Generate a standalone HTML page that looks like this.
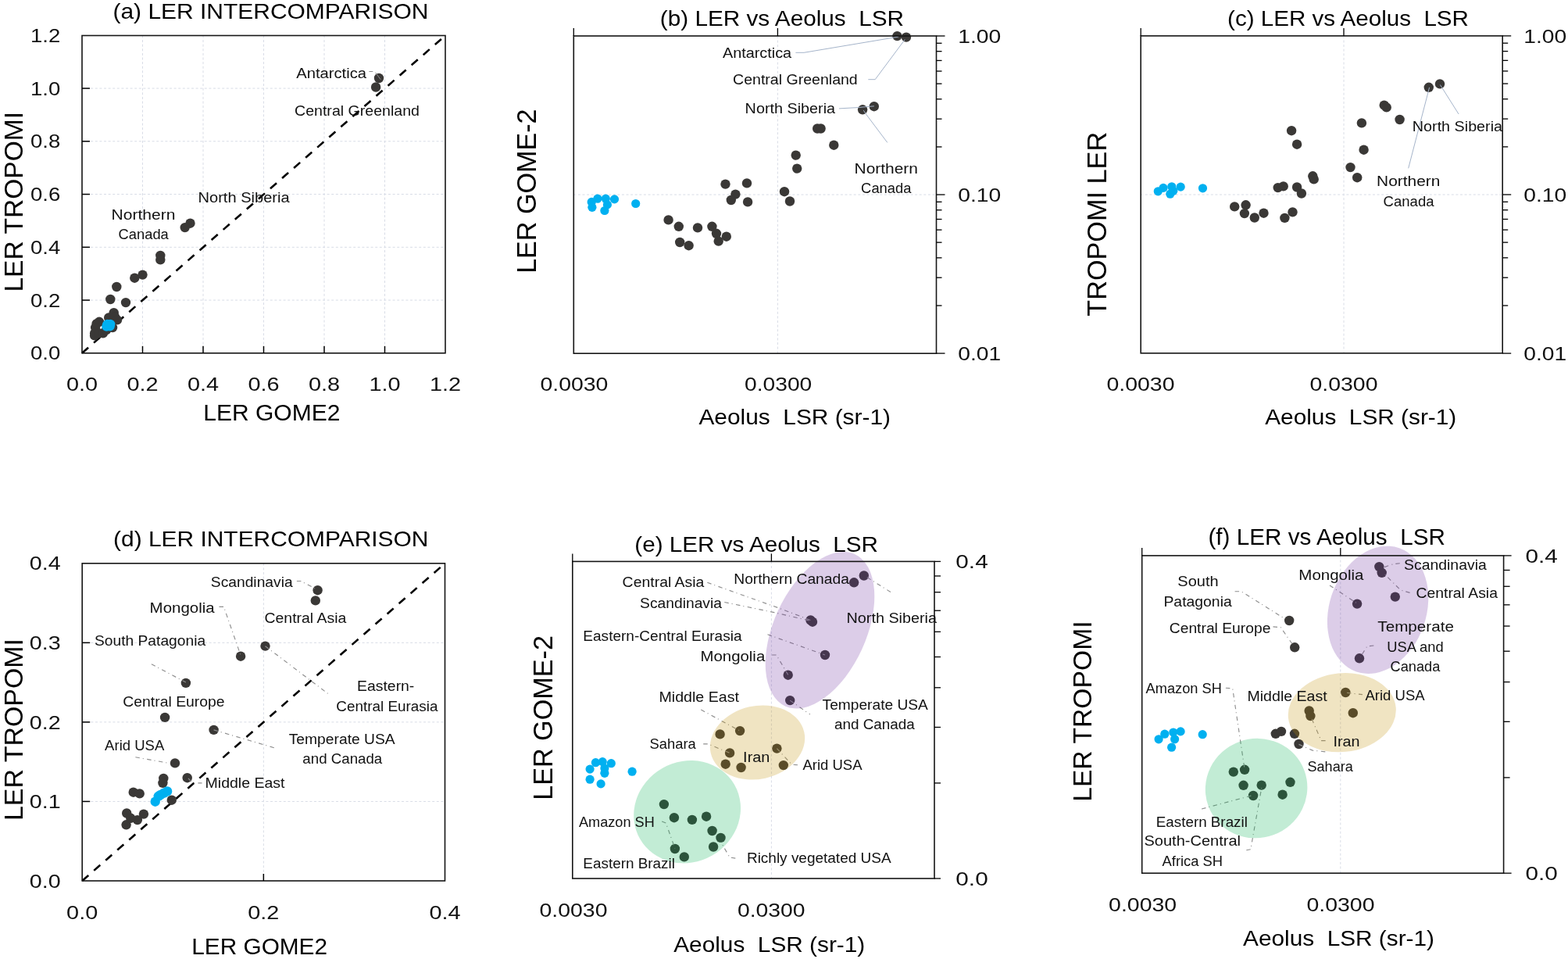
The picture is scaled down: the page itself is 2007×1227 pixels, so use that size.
<!DOCTYPE html>
<html><head><meta charset="utf-8"><title>LER vs Aeolus LSR</title>
<style>
html,body{margin:0;padding:0;background:#fff;}
body{width:2007px;height:1227px;overflow:hidden;}
svg{display:block;font-family:"Liberation Sans", Arial, sans-serif;}
text{white-space:pre;}
</style></head>
<body>
<svg xml:space="preserve" width="2007" height="1227" viewBox="0 0 2007 1227">
<rect width="2007" height="1227" fill="#fff"/>
<line x1="182.5" y1="45.5" x2="182.5" y2="451.8" stroke="#d8dce6" stroke-width="1" stroke-dasharray="3 2.6" stroke-linecap="butt"/>
<line x1="105" y1="384.05" x2="570" y2="384.05" stroke="#d8dce6" stroke-width="1" stroke-dasharray="3 2.6" stroke-linecap="butt"/>
<line x1="260" y1="45.5" x2="260" y2="451.8" stroke="#d8dce6" stroke-width="1" stroke-dasharray="3 2.6" stroke-linecap="butt"/>
<line x1="105" y1="316.3" x2="570" y2="316.3" stroke="#d8dce6" stroke-width="1" stroke-dasharray="3 2.6" stroke-linecap="butt"/>
<line x1="337.5" y1="45.5" x2="337.5" y2="451.8" stroke="#d8dce6" stroke-width="1" stroke-dasharray="3 2.6" stroke-linecap="butt"/>
<line x1="105" y1="248.55" x2="570" y2="248.55" stroke="#d8dce6" stroke-width="1" stroke-dasharray="3 2.6" stroke-linecap="butt"/>
<line x1="415" y1="45.5" x2="415" y2="451.8" stroke="#d8dce6" stroke-width="1" stroke-dasharray="3 2.6" stroke-linecap="butt"/>
<line x1="105" y1="180.8" x2="570" y2="180.8" stroke="#d8dce6" stroke-width="1" stroke-dasharray="3 2.6" stroke-linecap="butt"/>
<line x1="492.5" y1="45.5" x2="492.5" y2="451.8" stroke="#d8dce6" stroke-width="1" stroke-dasharray="3 2.6" stroke-linecap="butt"/>
<line x1="105" y1="113.05" x2="570" y2="113.05" stroke="#d8dce6" stroke-width="1" stroke-dasharray="3 2.6" stroke-linecap="butt"/>
<line x1="105" y1="451.8" x2="570" y2="45.5" stroke="#000" stroke-width="2.6" stroke-dasharray="10.7 9.3" stroke-linecap="butt"/>
<circle cx="243.5" cy="285.7" r="6.2" fill="#3a3836"/>
<circle cx="236.7" cy="291.1" r="6.2" fill="#3a3836"/>
<circle cx="205.3" cy="327" r="6.2" fill="#3a3836"/>
<circle cx="205.3" cy="332.4" r="6.2" fill="#3a3836"/>
<circle cx="182.5" cy="351.6" r="6.2" fill="#3a3836"/>
<circle cx="172.3" cy="355.7" r="6.2" fill="#3a3836"/>
<circle cx="149.3" cy="367" r="6.2" fill="#3a3836"/>
<circle cx="141.3" cy="383" r="6.2" fill="#3a3836"/>
<circle cx="161" cy="387.1" r="6.2" fill="#3a3836"/>
<circle cx="145.7" cy="400.2" r="6.2" fill="#3a3836"/>
<circle cx="139.2" cy="406.4" r="6.2" fill="#3a3836"/>
<circle cx="147" cy="405.4" r="6.2" fill="#3a3836"/>
<circle cx="150" cy="409.3" r="6.2" fill="#3a3836"/>
<circle cx="127" cy="411.8" r="6.2" fill="#3a3836"/>
<circle cx="123.6" cy="414.2" r="6.2" fill="#3a3836"/>
<circle cx="122.1" cy="419.1" r="6.2" fill="#3a3836"/>
<circle cx="121.1" cy="426.4" r="6.2" fill="#3a3836"/>
<circle cx="121.1" cy="429.4" r="6.2" fill="#3a3836"/>
<circle cx="127" cy="426.4" r="6.2" fill="#3a3836"/>
<circle cx="131.9" cy="426.4" r="6.2" fill="#3a3836"/>
<circle cx="144.1" cy="419.1" r="6.2" fill="#3a3836"/>
<circle cx="136.3" cy="422" r="6.2" fill="#3a3836"/>
<circle cx="485" cy="100" r="6.2" fill="#3a3836"/>
<circle cx="481.1" cy="111.5" r="6.2" fill="#3a3836"/>
<circle cx="136.4" cy="417.6" r="6.2" fill="#00b0f0"/>
<circle cx="141.2" cy="415" r="6.2" fill="#00b0f0"/>
<circle cx="138.6" cy="415.6" r="6.2" fill="#00b0f0"/>
<circle cx="140.6" cy="417.4" r="6.2" fill="#00b0f0"/>
<circle cx="137.6" cy="414.9" r="6.2" fill="#00b0f0"/>
<polyline points="472.4,91.5 477.3,91.5" fill="none" stroke="#8f8f8f" stroke-width="1"/>
<polyline points="480.6,92.9 487.2,101.7" fill="none" stroke="#8f8f8f" stroke-width="1"/>
<rect x="105" y="45.5" width="465" height="406.3" fill="none" stroke="#151515" stroke-width="1.6"/>
<line x1="105" y1="384.05" x2="115" y2="384.05" stroke="#000" stroke-width="1.5" stroke-linecap="butt"/>
<line x1="182.5" y1="451.8" x2="182.5" y2="442.8" stroke="#000" stroke-width="1.5" stroke-linecap="butt"/>
<line x1="105" y1="316.3" x2="115" y2="316.3" stroke="#000" stroke-width="1.5" stroke-linecap="butt"/>
<line x1="260" y1="451.8" x2="260" y2="442.8" stroke="#000" stroke-width="1.5" stroke-linecap="butt"/>
<line x1="105" y1="248.55" x2="115" y2="248.55" stroke="#000" stroke-width="1.5" stroke-linecap="butt"/>
<line x1="337.5" y1="451.8" x2="337.5" y2="442.8" stroke="#000" stroke-width="1.5" stroke-linecap="butt"/>
<line x1="105" y1="180.8" x2="115" y2="180.8" stroke="#000" stroke-width="1.5" stroke-linecap="butt"/>
<line x1="415" y1="451.8" x2="415" y2="442.8" stroke="#000" stroke-width="1.5" stroke-linecap="butt"/>
<line x1="105" y1="113.05" x2="115" y2="113.05" stroke="#000" stroke-width="1.5" stroke-linecap="butt"/>
<line x1="492.5" y1="451.8" x2="492.5" y2="442.8" stroke="#000" stroke-width="1.5" stroke-linecap="butt"/>
<text x="39.03" y="460.4" font-size="24.5" textLength="38.24" lengthAdjust="spacingAndGlyphs" fill="#111">0.0</text>
<text x="84.93" y="500.3" font-size="24.5" textLength="40.14" lengthAdjust="spacingAndGlyphs" fill="#111">0.0</text>
<text x="39.03" y="392.65" font-size="24.5" textLength="38.24" lengthAdjust="spacingAndGlyphs" fill="#111">0.2</text>
<text x="162.43" y="500.3" font-size="24.5" textLength="40.14" lengthAdjust="spacingAndGlyphs" fill="#111">0.2</text>
<text x="39.03" y="324.9" font-size="24.5" textLength="38.24" lengthAdjust="spacingAndGlyphs" fill="#111">0.4</text>
<text x="239.93" y="500.3" font-size="24.5" textLength="40.14" lengthAdjust="spacingAndGlyphs" fill="#111">0.4</text>
<text x="39.03" y="257.15" font-size="24.5" textLength="38.24" lengthAdjust="spacingAndGlyphs" fill="#111">0.6</text>
<text x="317.43" y="500.3" font-size="24.5" textLength="40.14" lengthAdjust="spacingAndGlyphs" fill="#111">0.6</text>
<text x="39.03" y="189.4" font-size="24.5" textLength="38.24" lengthAdjust="spacingAndGlyphs" fill="#111">0.8</text>
<text x="394.93" y="500.3" font-size="24.5" textLength="40.14" lengthAdjust="spacingAndGlyphs" fill="#111">0.8</text>
<text x="39.03" y="121.65" font-size="24.5" textLength="38.24" lengthAdjust="spacingAndGlyphs" fill="#111">1.0</text>
<text x="472.43" y="500.3" font-size="24.5" textLength="40.14" lengthAdjust="spacingAndGlyphs" fill="#111">1.0</text>
<text x="39.03" y="53.9" font-size="24.5" textLength="38.24" lengthAdjust="spacingAndGlyphs" fill="#111">1.2</text>
<text x="549.93" y="500.3" font-size="24.5" textLength="40.14" lengthAdjust="spacingAndGlyphs" fill="#111">1.2</text>
<text x="379.24" y="99.5" font-size="17.6" textLength="89.81" lengthAdjust="spacingAndGlyphs" fill="#111">Antarctica</text>
<text x="377.04" y="147.7" font-size="17.6" textLength="159.91" lengthAdjust="spacingAndGlyphs" fill="#111">Central Greenland</text>
<text x="253.54" y="259.2" font-size="17.6" textLength="117.11" lengthAdjust="spacingAndGlyphs" fill="#111">North Siberia</text>
<text x="142.54" y="280.9" font-size="17.6" textLength="81.91" lengthAdjust="spacingAndGlyphs" fill="#111">Northern</text>
<text x="151.54" y="306" font-size="17.6" textLength="64.31" lengthAdjust="spacingAndGlyphs" fill="#111">Canada</text>
<text x="144.45" y="23.6" font-size="27.5" textLength="404" lengthAdjust="spacingAndGlyphs" fill="#000">(a) LER INTERCOMPARISON</text>
<text x="260.32" y="537.9" font-size="29.7" textLength="175.06" lengthAdjust="spacingAndGlyphs" fill="#000">LER GOME2</text>
<text transform="translate(28.9 258.25) rotate(-90)" x="0" y="0" font-size="33.5" text-anchor="middle" textLength="230.72" lengthAdjust="spacingAndGlyphs" fill="#000">LER TROPOMI</text>
<line x1="734.3" y1="249.05" x2="1198.5" y2="249.05" stroke="#d8dce6" stroke-width="1" stroke-dasharray="3 2.6" stroke-linecap="butt"/>
<line x1="995.4" y1="46" x2="995.4" y2="452.2" stroke="#d8dce6" stroke-width="1" stroke-dasharray="3 2.6" stroke-linecap="butt"/>
<circle cx="928.5" cy="235.6" r="6.2" fill="#3a3836"/>
<circle cx="956" cy="234.4" r="6.2" fill="#3a3836"/>
<circle cx="941.4" cy="248.6" r="6.2" fill="#3a3836"/>
<circle cx="935.8" cy="256" r="6.2" fill="#3a3836"/>
<circle cx="957.1" cy="258.4" r="6.2" fill="#3a3836"/>
<circle cx="1004" cy="245.2" r="6.2" fill="#3a3836"/>
<circle cx="1011" cy="257.5" r="6.2" fill="#3a3836"/>
<circle cx="855.6" cy="281.4" r="6.2" fill="#3a3836"/>
<circle cx="868.8" cy="289.8" r="6.2" fill="#3a3836"/>
<circle cx="893" cy="291.4" r="6.2" fill="#3a3836"/>
<circle cx="911.4" cy="289.8" r="6.2" fill="#3a3836"/>
<circle cx="917" cy="298.8" r="6.2" fill="#3a3836"/>
<circle cx="929.8" cy="302.7" r="6.2" fill="#3a3836"/>
<circle cx="919.7" cy="308.6" r="6.2" fill="#3a3836"/>
<circle cx="870.2" cy="310" r="6.2" fill="#3a3836"/>
<circle cx="881.6" cy="314.2" r="6.2" fill="#3a3836"/>
<circle cx="1018.7" cy="198.6" r="6.2" fill="#3a3836"/>
<circle cx="1020.2" cy="215.6" r="6.2" fill="#3a3836"/>
<circle cx="1046.2" cy="164.5" r="6.2" fill="#3a3836"/>
<circle cx="1050.6" cy="164.5" r="6.2" fill="#3a3836"/>
<circle cx="1067.3" cy="185.7" r="6.2" fill="#3a3836"/>
<circle cx="1104.1" cy="140.3" r="6.2" fill="#3a3836"/>
<circle cx="1118.8" cy="136.2" r="6.2" fill="#3a3836"/>
<circle cx="1148.4" cy="46.1" r="6.2" fill="#3a3836"/>
<circle cx="1160" cy="47.6" r="6.2" fill="#3a3836"/>
<circle cx="757.2" cy="258.4" r="5.6" fill="#00b0f0"/>
<circle cx="757.9" cy="265.3" r="5.6" fill="#00b0f0"/>
<circle cx="764.9" cy="254.2" r="5.6" fill="#00b0f0"/>
<circle cx="775.3" cy="254.2" r="5.6" fill="#00b0f0"/>
<circle cx="777.4" cy="261.9" r="5.6" fill="#00b0f0"/>
<circle cx="773.9" cy="269.5" r="5.6" fill="#00b0f0"/>
<circle cx="786.5" cy="254.9" r="5.6" fill="#00b0f0"/>
<circle cx="813.7" cy="260.5" r="5.6" fill="#00b0f0"/>
<polyline points="1018.4,67.3 1029.1,67.3 1150.2,47" fill="none" stroke="#a5b4ca" stroke-width="1"/>
<polyline points="1111.3,101.7 1120.2,101.7 1158.2,50.6" fill="none" stroke="#a5b4ca" stroke-width="1"/>
<polyline points="1074,138.9 1097.3,137.6 1118.8,135.8" fill="none" stroke="#a5b4ca" stroke-width="1"/>
<polyline points="1105.3,141.2 1108.9,146.6 1135.8,182.4" fill="none" stroke="#a5b4ca" stroke-width="1"/>
<rect x="734.3" y="46" width="464.2" height="406.2" fill="none" stroke="#151515" stroke-width="1.6"/>
<line x1="734.3" y1="46" x2="734.3" y2="36" stroke="#000" stroke-width="1.3" stroke-linecap="butt"/>
<line x1="995.4" y1="46" x2="995.4" y2="36" stroke="#000" stroke-width="1.3" stroke-linecap="butt"/>
<line x1="1198.5" y1="187.93" x2="1205.5" y2="187.93" stroke="#000" stroke-width="1.3" stroke-linecap="butt"/>
<line x1="1198.5" y1="152.17" x2="1205.5" y2="152.17" stroke="#000" stroke-width="1.3" stroke-linecap="butt"/>
<line x1="1198.5" y1="126.8" x2="1205.5" y2="126.8" stroke="#000" stroke-width="1.3" stroke-linecap="butt"/>
<line x1="1198.5" y1="107.12" x2="1205.5" y2="107.12" stroke="#000" stroke-width="1.3" stroke-linecap="butt"/>
<line x1="1198.5" y1="91.05" x2="1205.5" y2="91.05" stroke="#000" stroke-width="1.3" stroke-linecap="butt"/>
<line x1="1198.5" y1="77.45" x2="1205.5" y2="77.45" stroke="#000" stroke-width="1.3" stroke-linecap="butt"/>
<line x1="1198.5" y1="65.68" x2="1205.5" y2="65.68" stroke="#000" stroke-width="1.3" stroke-linecap="butt"/>
<line x1="1198.5" y1="55.29" x2="1205.5" y2="55.29" stroke="#000" stroke-width="1.3" stroke-linecap="butt"/>
<line x1="1198.5" y1="390.98" x2="1205.5" y2="390.98" stroke="#000" stroke-width="1.3" stroke-linecap="butt"/>
<line x1="1198.5" y1="355.22" x2="1205.5" y2="355.22" stroke="#000" stroke-width="1.3" stroke-linecap="butt"/>
<line x1="1198.5" y1="329.85" x2="1205.5" y2="329.85" stroke="#000" stroke-width="1.3" stroke-linecap="butt"/>
<line x1="1198.5" y1="310.17" x2="1205.5" y2="310.17" stroke="#000" stroke-width="1.3" stroke-linecap="butt"/>
<line x1="1198.5" y1="294.1" x2="1205.5" y2="294.1" stroke="#000" stroke-width="1.3" stroke-linecap="butt"/>
<line x1="1198.5" y1="280.5" x2="1205.5" y2="280.5" stroke="#000" stroke-width="1.3" stroke-linecap="butt"/>
<line x1="1198.5" y1="268.73" x2="1205.5" y2="268.73" stroke="#000" stroke-width="1.3" stroke-linecap="butt"/>
<line x1="1198.5" y1="258.34" x2="1205.5" y2="258.34" stroke="#000" stroke-width="1.3" stroke-linecap="butt"/>
<line x1="1198.5" y1="46" x2="1209.5" y2="46" stroke="#000" stroke-width="1.3" stroke-linecap="butt"/>
<line x1="1198.5" y1="249.05" x2="1209.5" y2="249.05" stroke="#000" stroke-width="1.3" stroke-linecap="butt"/>
<line x1="1198.5" y1="452.1" x2="1209.5" y2="452.1" stroke="#000" stroke-width="1.3" stroke-linecap="butt"/>
<text x="1226.23" y="54.6" font-size="24.5" textLength="54.94" lengthAdjust="spacingAndGlyphs" fill="#111">1.00</text>
<text x="1226.23" y="257.65" font-size="24.5" textLength="54.94" lengthAdjust="spacingAndGlyphs" fill="#111">0.10</text>
<text x="1226.23" y="460.7" font-size="24.5" textLength="54.94" lengthAdjust="spacingAndGlyphs" fill="#111">0.01</text>
<text x="691.43" y="500.1" font-size="24.5" textLength="86.94" lengthAdjust="spacingAndGlyphs" fill="#111">0.0030</text>
<text x="953.03" y="500.1" font-size="24.5" textLength="86.24" lengthAdjust="spacingAndGlyphs" fill="#111">0.0300</text>
<text x="924.94" y="73.6" font-size="17.6" textLength="88.21" lengthAdjust="spacingAndGlyphs" fill="#111">Antarctica</text>
<text x="938.04" y="108" font-size="17.6" textLength="159.71" lengthAdjust="spacingAndGlyphs" fill="#111">Central Greenland</text>
<text x="953.64" y="144.8" font-size="17.6" textLength="115.41" lengthAdjust="spacingAndGlyphs" fill="#111">North Siberia</text>
<text x="1093.54" y="221.9" font-size="17.6" textLength="81.41" lengthAdjust="spacingAndGlyphs" fill="#111">Northern</text>
<text x="1102.14" y="247" font-size="17.6" textLength="64.31" lengthAdjust="spacingAndGlyphs" fill="#111">Canada</text>
<text x="844.89" y="32.8" font-size="28.5" textLength="312.12" lengthAdjust="spacingAndGlyphs" fill="#000">(b) LER vs Aeolus  LSR</text>
<text x="894.43" y="542.7" font-size="27.8" textLength="245.54" lengthAdjust="spacingAndGlyphs" fill="#000">Aeolus  LSR (sr-1)</text>
<text transform="translate(685.6 244.65) rotate(-90)" x="0" y="0" font-size="34.5" text-anchor="middle" textLength="210.44" lengthAdjust="spacingAndGlyphs" fill="#000">LER GOME-2</text>
<line x1="1460.2" y1="249" x2="1923.2" y2="249" stroke="#d8dce6" stroke-width="1" stroke-dasharray="3 2.6" stroke-linecap="butt"/>
<line x1="1720" y1="45.9" x2="1720" y2="451.9" stroke="#d8dce6" stroke-width="1" stroke-dasharray="3 2.6" stroke-linecap="butt"/>
<circle cx="1653.1" cy="167.2" r="6.2" fill="#3a3836"/>
<circle cx="1660.1" cy="184.7" r="6.2" fill="#3a3836"/>
<circle cx="1680.3" cy="225.3" r="6.2" fill="#3a3836"/>
<circle cx="1681.7" cy="229.4" r="6.2" fill="#3a3836"/>
<circle cx="1635.7" cy="240.1" r="6.2" fill="#3a3836"/>
<circle cx="1642.7" cy="238.4" r="6.2" fill="#3a3836"/>
<circle cx="1660.1" cy="239.5" r="6.2" fill="#3a3836"/>
<circle cx="1665.9" cy="247.5" r="6.2" fill="#3a3836"/>
<circle cx="1580.2" cy="264.4" r="6.2" fill="#3a3836"/>
<circle cx="1594.6" cy="262.3" r="6.2" fill="#3a3836"/>
<circle cx="1592.9" cy="273.1" r="6.2" fill="#3a3836"/>
<circle cx="1605.8" cy="278.5" r="6.2" fill="#3a3836"/>
<circle cx="1617.5" cy="272.7" r="6.2" fill="#3a3836"/>
<circle cx="1644.4" cy="278.9" r="6.2" fill="#3a3836"/>
<circle cx="1654.5" cy="271.4" r="6.2" fill="#3a3836"/>
<circle cx="1828.8" cy="111.8" r="6.2" fill="#3a3836"/>
<circle cx="1843" cy="107.4" r="6.2" fill="#3a3836"/>
<circle cx="1771.7" cy="134.6" r="6.2" fill="#3a3836"/>
<circle cx="1774.7" cy="137.4" r="6.2" fill="#3a3836"/>
<circle cx="1791.6" cy="153" r="6.2" fill="#3a3836"/>
<circle cx="1742.9" cy="157.4" r="6.2" fill="#3a3836"/>
<circle cx="1745.6" cy="191.7" r="6.2" fill="#3a3836"/>
<circle cx="1728.5" cy="214.1" r="6.2" fill="#3a3836"/>
<circle cx="1737.2" cy="227.2" r="6.2" fill="#3a3836"/>
<circle cx="1482.3" cy="244.8" r="5.6" fill="#00b0f0"/>
<circle cx="1489" cy="240.4" r="5.6" fill="#00b0f0"/>
<circle cx="1499.8" cy="238.8" r="5.6" fill="#00b0f0"/>
<circle cx="1501.8" cy="244.2" r="5.6" fill="#00b0f0"/>
<circle cx="1497.8" cy="248.2" r="5.6" fill="#00b0f0"/>
<circle cx="1511.2" cy="239.1" r="5.6" fill="#00b0f0"/>
<circle cx="1539.5" cy="240.8" r="5.6" fill="#00b0f0"/>
<polyline points="1802.7,215.3 1829.6,111.8" fill="none" stroke="#a5b4ca" stroke-width="1"/>
<polyline points="1867.1,146 1843.4,108.5" fill="none" stroke="#a5b4ca" stroke-width="1"/>
<rect x="1460.2" y="45.9" width="463" height="406" fill="none" stroke="#151515" stroke-width="1.6"/>
<line x1="1460.2" y1="45.9" x2="1460.2" y2="35.9" stroke="#000" stroke-width="1.3" stroke-linecap="butt"/>
<line x1="1720" y1="45.9" x2="1720" y2="35.9" stroke="#000" stroke-width="1.3" stroke-linecap="butt"/>
<line x1="1923.2" y1="187.86" x2="1930.2" y2="187.86" stroke="#000" stroke-width="1.3" stroke-linecap="butt"/>
<line x1="1923.2" y1="152.1" x2="1930.2" y2="152.1" stroke="#000" stroke-width="1.3" stroke-linecap="butt"/>
<line x1="1923.2" y1="126.72" x2="1930.2" y2="126.72" stroke="#000" stroke-width="1.3" stroke-linecap="butt"/>
<line x1="1923.2" y1="107.04" x2="1930.2" y2="107.04" stroke="#000" stroke-width="1.3" stroke-linecap="butt"/>
<line x1="1923.2" y1="90.96" x2="1930.2" y2="90.96" stroke="#000" stroke-width="1.3" stroke-linecap="butt"/>
<line x1="1923.2" y1="77.36" x2="1930.2" y2="77.36" stroke="#000" stroke-width="1.3" stroke-linecap="butt"/>
<line x1="1923.2" y1="65.58" x2="1930.2" y2="65.58" stroke="#000" stroke-width="1.3" stroke-linecap="butt"/>
<line x1="1923.2" y1="55.19" x2="1930.2" y2="55.19" stroke="#000" stroke-width="1.3" stroke-linecap="butt"/>
<line x1="1923.2" y1="390.96" x2="1930.2" y2="390.96" stroke="#000" stroke-width="1.3" stroke-linecap="butt"/>
<line x1="1923.2" y1="355.2" x2="1930.2" y2="355.2" stroke="#000" stroke-width="1.3" stroke-linecap="butt"/>
<line x1="1923.2" y1="329.82" x2="1930.2" y2="329.82" stroke="#000" stroke-width="1.3" stroke-linecap="butt"/>
<line x1="1923.2" y1="310.14" x2="1930.2" y2="310.14" stroke="#000" stroke-width="1.3" stroke-linecap="butt"/>
<line x1="1923.2" y1="294.06" x2="1930.2" y2="294.06" stroke="#000" stroke-width="1.3" stroke-linecap="butt"/>
<line x1="1923.2" y1="280.46" x2="1930.2" y2="280.46" stroke="#000" stroke-width="1.3" stroke-linecap="butt"/>
<line x1="1923.2" y1="268.68" x2="1930.2" y2="268.68" stroke="#000" stroke-width="1.3" stroke-linecap="butt"/>
<line x1="1923.2" y1="258.29" x2="1930.2" y2="258.29" stroke="#000" stroke-width="1.3" stroke-linecap="butt"/>
<line x1="1923.2" y1="45.9" x2="1934.2" y2="45.9" stroke="#000" stroke-width="1.3" stroke-linecap="butt"/>
<line x1="1923.2" y1="249" x2="1934.2" y2="249" stroke="#000" stroke-width="1.3" stroke-linecap="butt"/>
<line x1="1923.2" y1="452.1" x2="1934.2" y2="452.1" stroke="#000" stroke-width="1.3" stroke-linecap="butt"/>
<text x="1950.33" y="54.5" font-size="24.5" textLength="54.94" lengthAdjust="spacingAndGlyphs" fill="#111">1.00</text>
<text x="1950.33" y="257.6" font-size="24.5" textLength="54.94" lengthAdjust="spacingAndGlyphs" fill="#111">0.10</text>
<text x="1950.33" y="460.7" font-size="24.5" textLength="54.94" lengthAdjust="spacingAndGlyphs" fill="#111">0.01</text>
<text x="1416.53" y="500.1" font-size="24.5" textLength="86.94" lengthAdjust="spacingAndGlyphs" fill="#111">0.0030</text>
<text x="1676.53" y="500.1" font-size="24.5" textLength="86.94" lengthAdjust="spacingAndGlyphs" fill="#111">0.0300</text>
<text x="1807.84" y="167.5" font-size="17.6" textLength="115.21" lengthAdjust="spacingAndGlyphs" fill="#111">North Siberia</text>
<text x="1762.14" y="238.4" font-size="17.6" textLength="81.21" lengthAdjust="spacingAndGlyphs" fill="#111">Northern</text>
<text x="1770.64" y="264.2" font-size="17.6" textLength="64.91" lengthAdjust="spacingAndGlyphs" fill="#111">Canada</text>
<text x="1571.1" y="32.7" font-size="28.3" textLength="308.8" lengthAdjust="spacingAndGlyphs" fill="#000">(c) LER vs Aeolus  LSR</text>
<text x="1619.23" y="542.7" font-size="27.8" textLength="245.04" lengthAdjust="spacingAndGlyphs" fill="#000">Aeolus  LSR (sr-1)</text>
<text transform="translate(1415.7 286.8) rotate(-90)" x="0" y="0" font-size="34.5" text-anchor="middle" textLength="235.94" lengthAdjust="spacingAndGlyphs" fill="#000">TROPOMI LER</text>
<line x1="105.2" y1="1025.45" x2="569.5" y2="1025.45" stroke="#d8dce6" stroke-width="1" stroke-dasharray="3 2.6" stroke-linecap="butt"/>
<line x1="105.2" y1="923.9" x2="569.5" y2="923.9" stroke="#d8dce6" stroke-width="1" stroke-dasharray="3 2.6" stroke-linecap="butt"/>
<line x1="105.2" y1="822.35" x2="569.5" y2="822.35" stroke="#d8dce6" stroke-width="1" stroke-dasharray="3 2.6" stroke-linecap="butt"/>
<line x1="337.35" y1="720.8" x2="337.35" y2="1127" stroke="#d8dce6" stroke-width="1" stroke-dasharray="3 2.6" stroke-linecap="butt"/>
<line x1="105.2" y1="1127" x2="569.5" y2="720.8" stroke="#000" stroke-width="2.6" stroke-dasharray="10.7 9.25" stroke-linecap="butt"/>
<circle cx="406.6" cy="755.2" r="6.2" fill="#3a3836"/>
<circle cx="403.8" cy="768.4" r="6.2" fill="#3a3836"/>
<circle cx="339.5" cy="826.6" r="6.2" fill="#3a3836"/>
<circle cx="308.1" cy="839.7" r="6.2" fill="#3a3836"/>
<circle cx="237.9" cy="873.9" r="6.2" fill="#3a3836"/>
<circle cx="211.1" cy="917.9" r="6.2" fill="#3a3836"/>
<circle cx="273.6" cy="933.9" r="6.2" fill="#3a3836"/>
<circle cx="224" cy="976.4" r="6.2" fill="#3a3836"/>
<circle cx="239.7" cy="995.2" r="6.2" fill="#3a3836"/>
<circle cx="209.3" cy="995.9" r="6.2" fill="#3a3836"/>
<circle cx="208.4" cy="1001.8" r="6.2" fill="#3a3836"/>
<circle cx="170.7" cy="1013.7" r="6.2" fill="#3a3836"/>
<circle cx="178.7" cy="1015.4" r="6.2" fill="#3a3836"/>
<circle cx="219.8" cy="1023.7" r="6.2" fill="#3a3836"/>
<circle cx="162.2" cy="1040.5" r="6.2" fill="#3a3836"/>
<circle cx="183.9" cy="1041.6" r="6.2" fill="#3a3836"/>
<circle cx="175.9" cy="1049.1" r="6.2" fill="#3a3836"/>
<circle cx="161.6" cy="1055.3" r="6.2" fill="#3a3836"/>
<circle cx="167.3" cy="1046.8" r="6.2" fill="#3a3836"/>
<circle cx="198.7" cy="1025.7" r="6.2" fill="#00b0f0"/>
<circle cx="202.7" cy="1018.8" r="6.2" fill="#00b0f0"/>
<circle cx="209.5" cy="1014.8" r="6.2" fill="#00b0f0"/>
<circle cx="214.1" cy="1012.5" r="6.2" fill="#00b0f0"/>
<circle cx="205.5" cy="1017" r="6.2" fill="#00b0f0"/>
<polyline points="379.9,743.5 385,743.5 400.4,751.5 406.3,755.2" fill="none" stroke="#8f8f8f" stroke-width="1.15" stroke-dasharray="5.5 4 1 4.5"/>
<polyline points="280.5,776.3 286.4,776.3 308.4,839.4" fill="none" stroke="#8f8f8f" stroke-width="1.15" stroke-dasharray="5.5 4 1 4.5"/>
<polyline points="193.9,849.7 237.9,873.1" fill="none" stroke="#8f8f8f" stroke-width="1.15" stroke-dasharray="5.5 4 1 4.5"/>
<polyline points="339.5,826.7 422.4,889.5" fill="none" stroke="#8f8f8f" stroke-width="1.15" stroke-dasharray="5.5 4 1 4.5"/>
<polyline points="273.6,933.9 354.6,957.8" fill="none" stroke="#8f8f8f" stroke-width="1.15" stroke-dasharray="5.5 4 1 4.5"/>
<polyline points="173.4,968.8 217.4,976.6" fill="none" stroke="#8f8f8f" stroke-width="1.15" stroke-dasharray="5.5 4 1 4.5"/>
<polyline points="240.9,995.9 246.7,1001.8 258.5,1001.8" fill="none" stroke="#8f8f8f" stroke-width="1.15" stroke-dasharray="5.5 4 1 4.5"/>
<rect x="105.2" y="720.8" width="464.3" height="406.2" fill="none" stroke="#151515" stroke-width="1.6"/>
<line x1="105.2" y1="1025.45" x2="115.2" y2="1025.45" stroke="#000" stroke-width="1.5" stroke-linecap="butt"/>
<line x1="105.2" y1="923.9" x2="115.2" y2="923.9" stroke="#000" stroke-width="1.5" stroke-linecap="butt"/>
<line x1="105.2" y1="822.35" x2="115.2" y2="822.35" stroke="#000" stroke-width="1.5" stroke-linecap="butt"/>
<line x1="337.35" y1="1127" x2="337.35" y2="1118" stroke="#000" stroke-width="1.5" stroke-linecap="butt"/>
<text x="37.83" y="1135.6" font-size="24.5" textLength="39.84" lengthAdjust="spacingAndGlyphs" fill="#111">0.0</text>
<text x="37.83" y="1034.05" font-size="24.5" textLength="39.84" lengthAdjust="spacingAndGlyphs" fill="#111">0.1</text>
<text x="37.83" y="932.5" font-size="24.5" textLength="39.84" lengthAdjust="spacingAndGlyphs" fill="#111">0.2</text>
<text x="37.83" y="830.95" font-size="24.5" textLength="39.84" lengthAdjust="spacingAndGlyphs" fill="#111">0.3</text>
<text x="37.83" y="729.4" font-size="24.5" textLength="39.84" lengthAdjust="spacingAndGlyphs" fill="#111">0.4</text>
<text x="85.13" y="1175.5" font-size="24.5" textLength="40.14" lengthAdjust="spacingAndGlyphs" fill="#111">0.0</text>
<text x="317.28" y="1175.5" font-size="24.5" textLength="40.14" lengthAdjust="spacingAndGlyphs" fill="#111">0.2</text>
<text x="549.43" y="1175.5" font-size="24.5" textLength="40.14" lengthAdjust="spacingAndGlyphs" fill="#111">0.4</text>
<text x="269.84" y="751.4" font-size="17.6" textLength="104.81" lengthAdjust="spacingAndGlyphs" fill="#111">Scandinavia</text>
<text x="191.64" y="783.9" font-size="17.6" textLength="83.01" lengthAdjust="spacingAndGlyphs" fill="#111">Mongolia</text>
<text x="338.44" y="797" font-size="17.6" textLength="104.91" lengthAdjust="spacingAndGlyphs" fill="#111">Central Asia</text>
<text x="120.94" y="825.5" font-size="17.6" textLength="142.21" lengthAdjust="spacingAndGlyphs" fill="#111">South Patagonia</text>
<text x="457.04" y="884.2" font-size="17.6" textLength="73.31" lengthAdjust="spacingAndGlyphs" fill="#111">Eastern-</text>
<text x="430.24" y="909.6" font-size="17.6" textLength="130.21" lengthAdjust="spacingAndGlyphs" fill="#111">Central Eurasia</text>
<text x="157.34" y="903.8" font-size="17.6" textLength="130.31" lengthAdjust="spacingAndGlyphs" fill="#111">Central Europe</text>
<text x="369.74" y="952.4" font-size="17.6" textLength="135.91" lengthAdjust="spacingAndGlyphs" fill="#111">Temperate USA</text>
<text x="387.34" y="977.4" font-size="17.6" textLength="101.91" lengthAdjust="spacingAndGlyphs" fill="#111">and Canada</text>
<text x="134.14" y="959.7" font-size="17.6" textLength="76.21" lengthAdjust="spacingAndGlyphs" fill="#111">Arid USA</text>
<text x="262.54" y="1008.1" font-size="17.6" textLength="102.01" lengthAdjust="spacingAndGlyphs" fill="#111">Middle East</text>
<text x="145.05" y="698.9" font-size="27.5" textLength="403.4" lengthAdjust="spacingAndGlyphs" fill="#000">(d) LER INTERCOMPARISON</text>
<text x="245.24" y="1220.7" font-size="29.3" textLength="173.82" lengthAdjust="spacingAndGlyphs" fill="#000">LER GOME2</text>
<text transform="translate(29 933.55) rotate(-90)" x="0" y="0" font-size="33.5" text-anchor="middle" textLength="232.92" lengthAdjust="spacingAndGlyphs" fill="#000">LER TROPOMI</text>
<line x1="987.4" y1="718.4" x2="987.4" y2="1124" stroke="#d8dce6" stroke-width="1" stroke-dasharray="3 2.6" stroke-linecap="butt"/>
<circle cx="1105.8" cy="736.5" r="6.2" fill="#3a3836"/>
<circle cx="1093.1" cy="745.3" r="6.2" fill="#3a3836"/>
<circle cx="1037.5" cy="793.5" r="6.2" fill="#3a3836"/>
<circle cx="1040" cy="795.7" r="6.2" fill="#3a3836"/>
<circle cx="1056" cy="838" r="6.2" fill="#3a3836"/>
<circle cx="1008.7" cy="863.7" r="6.2" fill="#3a3836"/>
<circle cx="1011.2" cy="896.1" r="6.2" fill="#3a3836"/>
<circle cx="947.1" cy="935.1" r="6.2" fill="#3a3836"/>
<circle cx="921.6" cy="939.4" r="6.2" fill="#3a3836"/>
<circle cx="934.1" cy="963.4" r="6.2" fill="#3a3836"/>
<circle cx="994.4" cy="957.6" r="6.2" fill="#3a3836"/>
<circle cx="928.7" cy="977.7" r="6.2" fill="#3a3836"/>
<circle cx="948.6" cy="982" r="6.2" fill="#3a3836"/>
<circle cx="1002.8" cy="979.1" r="6.2" fill="#3a3836"/>
<circle cx="849.9" cy="1029.1" r="6.2" fill="#3a3836"/>
<circle cx="862.9" cy="1046.2" r="6.2" fill="#3a3836"/>
<circle cx="885.9" cy="1048.9" r="6.2" fill="#3a3836"/>
<circle cx="904.1" cy="1044.7" r="6.2" fill="#3a3836"/>
<circle cx="911.6" cy="1063" r="6.2" fill="#3a3836"/>
<circle cx="922.5" cy="1071.9" r="6.2" fill="#3a3836"/>
<circle cx="913.1" cy="1083.5" r="6.2" fill="#3a3836"/>
<circle cx="863.9" cy="1086" r="6.2" fill="#3a3836"/>
<circle cx="875.8" cy="1096.4" r="6.2" fill="#3a3836"/>
<circle cx="755.1" cy="984.1" r="5.6" fill="#00b0f0"/>
<circle cx="762.4" cy="975.7" r="5.6" fill="#00b0f0"/>
<circle cx="771.2" cy="974.6" r="5.6" fill="#00b0f0"/>
<circle cx="782.3" cy="976.7" r="5.6" fill="#00b0f0"/>
<circle cx="773.9" cy="983" r="5.6" fill="#00b0f0"/>
<circle cx="773.9" cy="989.3" r="5.6" fill="#00b0f0"/>
<circle cx="755.1" cy="997.2" r="5.6" fill="#00b0f0"/>
<circle cx="769.1" cy="1002.9" r="5.6" fill="#00b0f0"/>
<circle cx="809.1" cy="987.2" r="5.6" fill="#00b0f0"/>
<polyline points="905.3,745.3 996.6,777.9 1037.5,793.5" fill="none" stroke="#8f8f8f" stroke-width="1.15" stroke-dasharray="5.5 4 1 4.5"/>
<polyline points="927.3,770.5 990.9,783.6 1038.7,794.6" fill="none" stroke="#8f8f8f" stroke-width="1.15" stroke-dasharray="5.5 4 1 4.5"/>
<polyline points="982.5,811.8 1056,838" fill="none" stroke="#8f8f8f" stroke-width="1.15" stroke-dasharray="5.5 4 1 4.5"/>
<polyline points="988.1,838 993.7,838 1008.7,863.4" fill="none" stroke="#8f8f8f" stroke-width="1.15" stroke-dasharray="5.5 4 1 4.5"/>
<polyline points="1109.9,738.7 1139.9,757.5" fill="none" stroke="#8f8f8f" stroke-width="1.15" stroke-dasharray="5.5 4 1 4.5"/>
<polyline points="1011.2,896.1 1036.8,914" fill="none" stroke="#8f8f8f" stroke-width="1.15" stroke-dasharray="5.5 4 1 4.5"/>
<polyline points="897.3,908.1 947.1,935.1" fill="none" stroke="#8f8f8f" stroke-width="1.15" stroke-dasharray="5.5 4 1 4.5"/>
<polyline points="900.2,951.8 906,951.8 934.1,963.4" fill="none" stroke="#8f8f8f" stroke-width="1.15" stroke-dasharray="5.5 4 1 4.5"/>
<polyline points="994.4,957.6 1009.3,973.8 1013.6,978.1 1023,978.9" fill="none" stroke="#8f8f8f" stroke-width="1.15" stroke-dasharray="5.5 4 1 4.5"/>
<polyline points="847.2,1051 852.4,1053.1 863.9,1085.5" fill="none" stroke="#8f8f8f" stroke-width="1.15" stroke-dasharray="5.5 4 1 4.5"/>
<polyline points="941.3,1098.1 934,1097 922.5,1077" fill="none" stroke="#8f8f8f" stroke-width="1.15" stroke-dasharray="5.5 4 1 4.5"/>
<ellipse cx="1049.5" cy="806.2" rx="106.9" ry="59.1" transform="rotate(-65.4 1049.5 806.2)" fill="#7030a0" fill-opacity="0.245"/>
<ellipse cx="969.5" cy="950" rx="61.3" ry="46.8" transform="rotate(-12.6 969.5 950)" fill="#bf9000" fill-opacity="0.24"/>
<ellipse cx="879.6" cy="1038.7" rx="69.7" ry="64.3" transform="rotate(-29.8 879.6 1038.7)" fill="#00b050" fill-opacity="0.24"/>
<rect x="732.8" y="718.4" width="463.2" height="405.6" fill="none" stroke="#151515" stroke-width="1.6"/>
<line x1="732.8" y1="718.4" x2="732.8" y2="708.4" stroke="#000" stroke-width="1.3" stroke-linecap="butt"/>
<line x1="987.4" y1="718.4" x2="987.4" y2="708.4" stroke="#000" stroke-width="1.3" stroke-linecap="butt"/>
<line x1="1196" y1="1001.9" x2="1204" y2="1001.9" stroke="#000" stroke-width="1.3" stroke-linecap="butt"/>
<line x1="1196" y1="930.48" x2="1204" y2="930.48" stroke="#000" stroke-width="1.3" stroke-linecap="butt"/>
<line x1="1196" y1="879.8" x2="1204" y2="879.8" stroke="#000" stroke-width="1.3" stroke-linecap="butt"/>
<line x1="1196" y1="840.5" x2="1204" y2="840.5" stroke="#000" stroke-width="1.3" stroke-linecap="butt"/>
<line x1="1196" y1="808.38" x2="1204" y2="808.38" stroke="#000" stroke-width="1.3" stroke-linecap="butt"/>
<line x1="1196" y1="781.23" x2="1204" y2="781.23" stroke="#000" stroke-width="1.3" stroke-linecap="butt"/>
<line x1="1196" y1="757.71" x2="1204" y2="757.71" stroke="#000" stroke-width="1.3" stroke-linecap="butt"/>
<line x1="1196" y1="736.96" x2="1204" y2="736.96" stroke="#000" stroke-width="1.3" stroke-linecap="butt"/>
<line x1="1196" y1="718.4" x2="1204" y2="718.4" stroke="#000" stroke-width="1.3" stroke-linecap="butt"/>
<line x1="1196" y1="1124" x2="1204" y2="1124" stroke="#000" stroke-width="1.3" stroke-linecap="butt"/>
<text x="1223.33" y="727" font-size="24.5" textLength="41.34" lengthAdjust="spacingAndGlyphs" fill="#111">0.4</text>
<text x="1223.33" y="1132.6" font-size="24.5" textLength="41.34" lengthAdjust="spacingAndGlyphs" fill="#111">0.0</text>
<text x="690.53" y="1172.5" font-size="24.5" textLength="86.94" lengthAdjust="spacingAndGlyphs" fill="#111">0.0030</text>
<text x="943.93" y="1172.5" font-size="24.5" textLength="86.54" lengthAdjust="spacingAndGlyphs" fill="#111">0.0300</text>
<text x="796.64" y="751.3" font-size="17.6" textLength="104.81" lengthAdjust="spacingAndGlyphs" fill="#111">Central Asia</text>
<text x="939.24" y="747" font-size="17.6" textLength="147.71" lengthAdjust="spacingAndGlyphs" fill="#111">Northern Canada</text>
<text x="819.14" y="778.4" font-size="17.6" textLength="104.81" lengthAdjust="spacingAndGlyphs" fill="#111">Scandinavia</text>
<text x="1083.54" y="796.8" font-size="17.6" textLength="115.51" lengthAdjust="spacingAndGlyphs" fill="#111">North Siberia</text>
<text x="746.34" y="819.5" font-size="17.6" textLength="203.21" lengthAdjust="spacingAndGlyphs" fill="#111">Eastern-Central Eurasia</text>
<text x="896.54" y="845.6" font-size="17.6" textLength="82.71" lengthAdjust="spacingAndGlyphs" fill="#111">Mongolia</text>
<text x="843.54" y="898.2" font-size="17.6" textLength="102.41" lengthAdjust="spacingAndGlyphs" fill="#111">Middle East</text>
<text x="1052.64" y="908.3" font-size="17.6" textLength="135.21" lengthAdjust="spacingAndGlyphs" fill="#111">Temperate USA</text>
<text x="1067.94" y="932.7" font-size="17.6" textLength="102.91" lengthAdjust="spacingAndGlyphs" fill="#111">and Canada</text>
<text x="831.64" y="957.9" font-size="17.6" textLength="59.21" lengthAdjust="spacingAndGlyphs" fill="#111">Sahara</text>
<text x="951.14" y="975.2" font-size="17.6" textLength="34.21" lengthAdjust="spacingAndGlyphs" fill="#111">Iran</text>
<text x="1027.44" y="985.4" font-size="17.6" textLength="76.11" lengthAdjust="spacingAndGlyphs" fill="#111">Arid USA</text>
<text x="741.04" y="1057.9" font-size="17.6" textLength="96.71" lengthAdjust="spacingAndGlyphs" fill="#111">Amazon SH</text>
<text x="746.34" y="1110.7" font-size="17.6" textLength="117.61" lengthAdjust="spacingAndGlyphs" fill="#111">Eastern Brazil</text>
<text x="955.94" y="1104" font-size="17.6" textLength="184.61" lengthAdjust="spacingAndGlyphs" fill="#111">Richly vegetated USA</text>
<text x="812.3" y="705.7" font-size="28.3" textLength="311.7" lengthAdjust="spacingAndGlyphs" fill="#000">(e) LER vs Aeolus  LSR</text>
<text x="862.2" y="1217.9" font-size="28.4" textLength="245.11" lengthAdjust="spacingAndGlyphs" fill="#000">Aeolus  LSR (sr-1)</text>
<text transform="translate(706.6 918.5) rotate(-90)" x="0" y="0" font-size="34.5" text-anchor="middle" textLength="210.74" lengthAdjust="spacingAndGlyphs" fill="#000">LER GOME-2</text>
<line x1="1715.8" y1="710.9" x2="1715.8" y2="1117.2" stroke="#d8dce6" stroke-width="1" stroke-dasharray="3 2.6" stroke-linecap="butt"/>
<circle cx="1765.3" cy="725.1" r="6.2" fill="#3a3836"/>
<circle cx="1768.7" cy="732.8" r="6.2" fill="#3a3836"/>
<circle cx="1785.8" cy="763.6" r="6.2" fill="#3a3836"/>
<circle cx="1737.1" cy="772.6" r="6.2" fill="#3a3836"/>
<circle cx="1740" cy="842.3" r="6.2" fill="#3a3836"/>
<circle cx="1650.2" cy="794" r="6.2" fill="#3a3836"/>
<circle cx="1657.2" cy="828.3" r="6.2" fill="#3a3836"/>
<circle cx="1632.8" cy="938.8" r="6.2" fill="#3a3836"/>
<circle cx="1640" cy="935.9" r="6.2" fill="#3a3836"/>
<circle cx="1657" cy="938.8" r="6.2" fill="#3a3836"/>
<circle cx="1662.5" cy="952" r="6.2" fill="#3a3836"/>
<circle cx="1675.7" cy="909.5" r="6.2" fill="#3a3836"/>
<circle cx="1677.4" cy="916.1" r="6.2" fill="#3a3836"/>
<circle cx="1722.3" cy="886" r="6.2" fill="#3a3836"/>
<circle cx="1731.8" cy="912.2" r="6.2" fill="#3a3836"/>
<circle cx="1578.8" cy="987.6" r="6.2" fill="#3a3836"/>
<circle cx="1593.1" cy="984.8" r="6.2" fill="#3a3836"/>
<circle cx="1591.6" cy="1004.8" r="6.2" fill="#3a3836"/>
<circle cx="1614.7" cy="1004.6" r="6.2" fill="#3a3836"/>
<circle cx="1651.5" cy="1000.8" r="6.2" fill="#3a3836"/>
<circle cx="1604.1" cy="1018" r="6.2" fill="#3a3836"/>
<circle cx="1641.6" cy="1016.7" r="6.2" fill="#3a3836"/>
<circle cx="1483.1" cy="945.8" r="5.6" fill="#00b0f0"/>
<circle cx="1490.8" cy="939.2" r="5.6" fill="#00b0f0"/>
<circle cx="1501.8" cy="937" r="5.6" fill="#00b0f0"/>
<circle cx="1511.1" cy="935.9" r="5.6" fill="#00b0f0"/>
<circle cx="1503.6" cy="945.8" r="5.6" fill="#00b0f0"/>
<circle cx="1499.6" cy="956.2" r="5.6" fill="#00b0f0"/>
<circle cx="1539.2" cy="939.7" r="5.6" fill="#00b0f0"/>
<polyline points="1791.8,720.8 1783.3,721.7 1768.7,726.8" fill="none" stroke="#8f8f8f" stroke-width="1.15" stroke-dasharray="5.5 4 1 4.5"/>
<polyline points="1804.6,758.4 1792.7,755 1772.1,734.5" fill="none" stroke="#8f8f8f" stroke-width="1.15" stroke-dasharray="5.5 4 1 4.5"/>
<polyline points="1702,749 1737.1,772.1" fill="none" stroke="#8f8f8f" stroke-width="1.15" stroke-dasharray="5.5 4 1 4.5"/>
<polyline points="1758.4,826 1749.9,826.9 1741.3,840.6" fill="none" stroke="#8f8f8f" stroke-width="1.15" stroke-dasharray="5.5 4 1 4.5"/>
<polyline points="1724.1,886.4 1743.9,888.6" fill="none" stroke="#8f8f8f" stroke-width="1.15" stroke-dasharray="5.5 4 1 4.5"/>
<polyline points="1580.6,756.7 1588.8,756.7 1642.6,790.5" fill="none" stroke="#8f8f8f" stroke-width="1.15" stroke-dasharray="5.5 4 1 4.5"/>
<polyline points="1629.5,801.9 1639.3,802.7 1654,823.9" fill="none" stroke="#8f8f8f" stroke-width="1.15" stroke-dasharray="5.5 4 1 4.5"/>
<polyline points="1568.9,880.2 1577.7,880.9 1593.1,984.3" fill="none" stroke="#8f8f8f" stroke-width="1.15" stroke-dasharray="5.5 4 1 4.5"/>
<polyline points="1538.1,1035 1604.1,1017.4" fill="none" stroke="#8f8f8f" stroke-width="1.15" stroke-dasharray="5.5 4 1 4.5"/>
<polyline points="1595.3,1087.8 1600.8,1086.7 1615.1,1006.3" fill="none" stroke="#8f8f8f" stroke-width="1.15" stroke-dasharray="5.5 4 1 4.5"/>
<polyline points="1696.6,947.6 1691.1,947.6 1677.9,917.2" fill="none" stroke="#8f8f8f" stroke-width="1.15" stroke-dasharray="5.5 4 1 4.5"/>
<polyline points="1662.5,952.4 1680.1,960.1 1699.9,962.3" fill="none" stroke="#8f8f8f" stroke-width="1.15" stroke-dasharray="5.5 4 1 4.5"/>
<ellipse cx="1763.6" cy="780.3" rx="83.7" ry="62" transform="rotate(-70.9 1763.6 780.3)" fill="#7030a0" fill-opacity="0.245"/>
<ellipse cx="1717.8" cy="911.7" rx="69.2" ry="50.4" transform="rotate(-5.7 1717.8 911.7)" fill="#bf9000" fill-opacity="0.24"/>
<ellipse cx="1608.1" cy="1008.6" rx="65.5" ry="63.5" transform="rotate(-20 1608.1 1008.6)" fill="#00b050" fill-opacity="0.24"/>
<rect x="1461.7" y="710.9" width="462.9" height="406.3" fill="none" stroke="#151515" stroke-width="1.6"/>
<line x1="1461.7" y1="710.9" x2="1461.7" y2="700.9" stroke="#000" stroke-width="1.3" stroke-linecap="butt"/>
<line x1="1715.8" y1="710.9" x2="1715.8" y2="700.9" stroke="#000" stroke-width="1.3" stroke-linecap="butt"/>
<line x1="1924.6" y1="994.89" x2="1932.6" y2="994.89" stroke="#000" stroke-width="1.3" stroke-linecap="butt"/>
<line x1="1924.6" y1="923.35" x2="1932.6" y2="923.35" stroke="#000" stroke-width="1.3" stroke-linecap="butt"/>
<line x1="1924.6" y1="872.58" x2="1932.6" y2="872.58" stroke="#000" stroke-width="1.3" stroke-linecap="butt"/>
<line x1="1924.6" y1="833.21" x2="1932.6" y2="833.21" stroke="#000" stroke-width="1.3" stroke-linecap="butt"/>
<line x1="1924.6" y1="801.04" x2="1932.6" y2="801.04" stroke="#000" stroke-width="1.3" stroke-linecap="butt"/>
<line x1="1924.6" y1="773.84" x2="1932.6" y2="773.84" stroke="#000" stroke-width="1.3" stroke-linecap="butt"/>
<line x1="1924.6" y1="750.27" x2="1932.6" y2="750.27" stroke="#000" stroke-width="1.3" stroke-linecap="butt"/>
<line x1="1924.6" y1="729.49" x2="1932.6" y2="729.49" stroke="#000" stroke-width="1.3" stroke-linecap="butt"/>
<line x1="1924.6" y1="710.9" x2="1934.6" y2="710.9" stroke="#000" stroke-width="1.3" stroke-linecap="butt"/>
<line x1="1924.6" y1="1117.2" x2="1934.6" y2="1117.2" stroke="#000" stroke-width="1.3" stroke-linecap="butt"/>
<text x="1952.43" y="719.5" font-size="24.5" textLength="41.34" lengthAdjust="spacingAndGlyphs" fill="#111">0.4</text>
<text x="1952.43" y="1125.8" font-size="24.5" textLength="41.34" lengthAdjust="spacingAndGlyphs" fill="#111">0.0</text>
<text x="1419.13" y="1165.5" font-size="24.5" textLength="86.94" lengthAdjust="spacingAndGlyphs" fill="#111">0.0030</text>
<text x="1672.53" y="1165.5" font-size="24.5" textLength="86.94" lengthAdjust="spacingAndGlyphs" fill="#111">0.0300</text>
<text x="1797.04" y="728.5" font-size="17.6" textLength="105.71" lengthAdjust="spacingAndGlyphs" fill="#111">Scandinavia</text>
<text x="1662.34" y="741.6" font-size="17.6" textLength="83.11" lengthAdjust="spacingAndGlyphs" fill="#111">Mongolia</text>
<text x="1507.34" y="749.7" font-size="17.6" textLength="52.31" lengthAdjust="spacingAndGlyphs" fill="#111">South</text>
<text x="1489.44" y="775.8" font-size="17.6" textLength="87.31" lengthAdjust="spacingAndGlyphs" fill="#111">Patagonia</text>
<text x="1812.44" y="765.3" font-size="17.6" textLength="104.51" lengthAdjust="spacingAndGlyphs" fill="#111">Central Asia</text>
<text x="1496.74" y="810" font-size="17.6" textLength="129.71" lengthAdjust="spacingAndGlyphs" fill="#111">Central Europe</text>
<text x="1763.34" y="808.1" font-size="17.6" textLength="97.61" lengthAdjust="spacingAndGlyphs" fill="#111">Temperate</text>
<text x="1775.34" y="834.3" font-size="17.6" textLength="72.31" lengthAdjust="spacingAndGlyphs" fill="#111">USA and</text>
<text x="1779.64" y="859.4" font-size="17.6" textLength="63.71" lengthAdjust="spacingAndGlyphs" fill="#111">Canada</text>
<text x="1466.64" y="886.8" font-size="17.6" textLength="97.21" lengthAdjust="spacingAndGlyphs" fill="#111">Amazon SH</text>
<text x="1596.44" y="897" font-size="17.6" textLength="102.31" lengthAdjust="spacingAndGlyphs" fill="#111">Middle East</text>
<text x="1747.44" y="896.2" font-size="17.6" textLength="76.21" lengthAdjust="spacingAndGlyphs" fill="#111">Arid USA</text>
<text x="1706.54" y="955.1" font-size="17.6" textLength="34.01" lengthAdjust="spacingAndGlyphs" fill="#111">Iran</text>
<text x="1673.54" y="986.5" font-size="17.6" textLength="58.21" lengthAdjust="spacingAndGlyphs" fill="#111">Sahara</text>
<text x="1479.84" y="1058.1" font-size="17.6" textLength="117.01" lengthAdjust="spacingAndGlyphs" fill="#111">Eastern Brazil</text>
<text x="1464.44" y="1082.3" font-size="17.6" textLength="123.61" lengthAdjust="spacingAndGlyphs" fill="#111">South-Central</text>
<text x="1487.54" y="1107.6" font-size="17.6" textLength="77.61" lengthAdjust="spacingAndGlyphs" fill="#111">Africa SH</text>
<text x="1546.48" y="697" font-size="28.7" textLength="303.44" lengthAdjust="spacingAndGlyphs" fill="#000">(f) LER vs Aeolus  LSR</text>
<text x="1591.11" y="1210.4" font-size="28.2" textLength="244.88" lengthAdjust="spacingAndGlyphs" fill="#000">Aeolus  LSR (sr-1)</text>
<text transform="translate(1397.1 910.15) rotate(-90)" x="0" y="0" font-size="34" text-anchor="middle" textLength="231.38" lengthAdjust="spacingAndGlyphs" fill="#000">LER TROPOMI</text>
</svg>
</body></html>
